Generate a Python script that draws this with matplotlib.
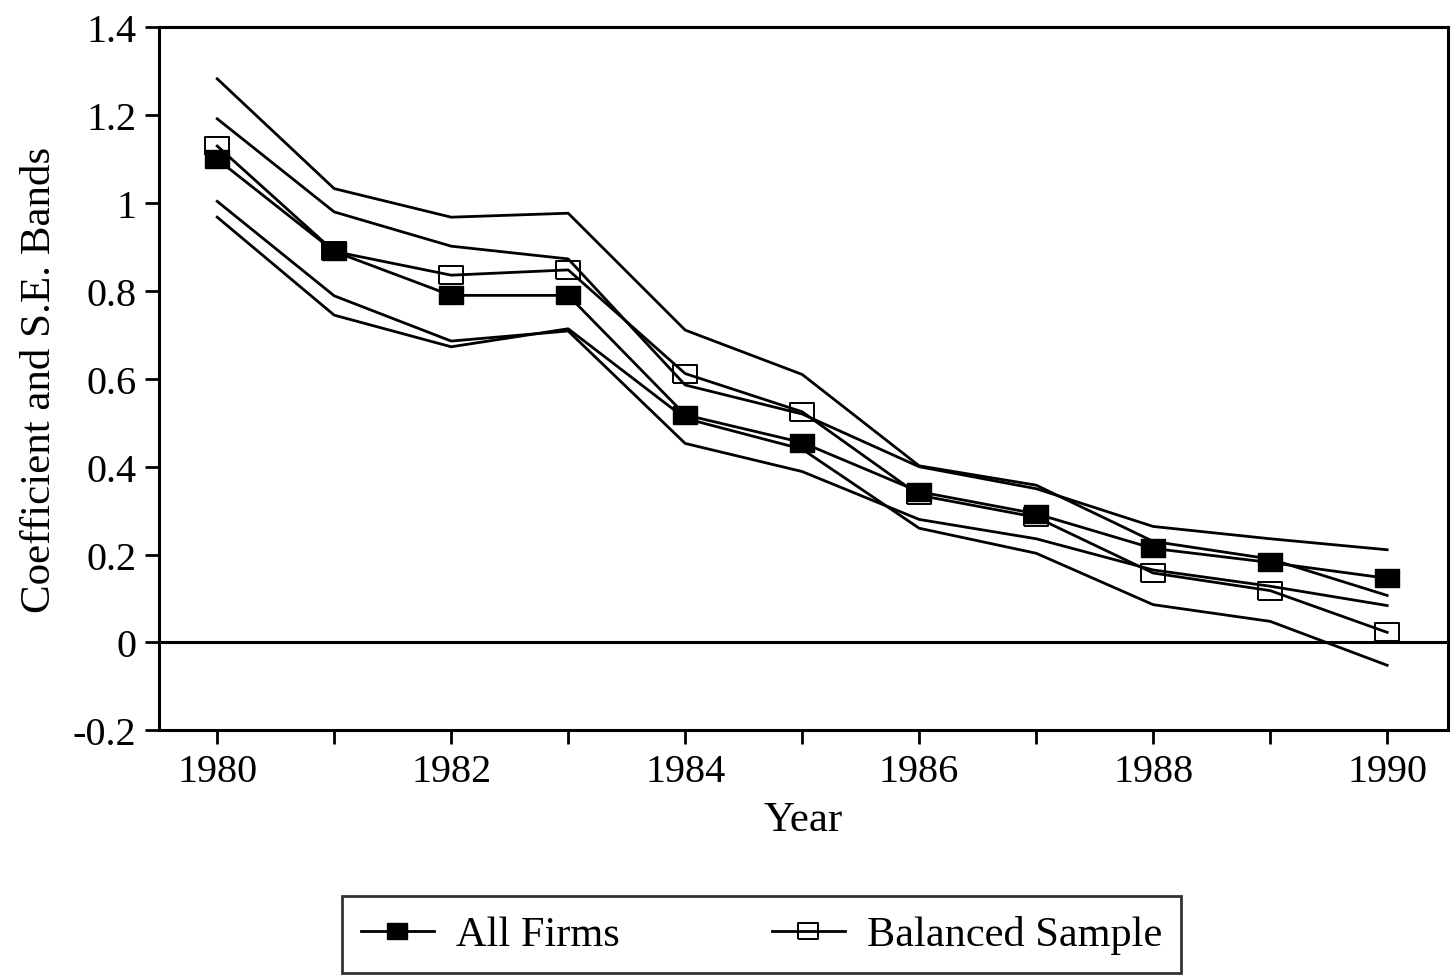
import numpy as np
import matplotlib.pyplot as plt
from matplotlib.lines import Line2D

# Data
years = [1980, 1981, 1982, 1983, 1984, 1985, 1986, 1987, 1988, 1989, 1990]

all_firms = [1.10, 0.89, 0.79, 0.79, 0.518, 0.455, 0.343, 0.293, 0.214, 0.182, 0.146]
all_hi = [1.192, 0.980, 0.902, 0.873, 0.586, 0.52, 0.40, 0.35, 0.264, 0.236, 0.211]
all_lo = [1.004, 0.789, 0.686, 0.709, 0.453, 0.389, 0.28, 0.236, 0.165, 0.128, 0.084]

balanced = [1.13, 0.89, 0.836, 0.848, 0.612, 0.525, 0.335, 0.285, 0.158, 0.118, 0.023]
bal_hi = [1.283, 1.033, 0.968, 0.977, 0.711, 0.61, 0.402, 0.358, 0.23, 0.19, 0.107]
bal_lo = [0.968, 0.745, 0.673, 0.714, 0.51, 0.44, 0.26, 0.203, 0.086, 0.048, -0.052]

yticks = [-0.2, 0, 0.2, 0.4, 0.6, 0.8, 1, 1.2, 1.4]
ytick_labels = ['-0.2', '0', '0.2', '0.4', '0.6', '0.8', '1', '1.2', '1.4']

plt.rcParams['font.family'] = ['Liberation Serif', 'DejaVu Serif']

# rectangle marker, a bit wider than tall
rect = [(-1, -0.74), (1, -0.74), (1, 0.74), (-1, 0.74), (-1, -0.74)]

fig = plt.figure(figsize=(14.56, 9.79), dpi=100)
ax = fig.add_axes([0.109, 0.253, 0.8855, 0.718])

lw = 2.0
# S.E. bands
for band in (bal_hi, bal_lo, all_hi, all_lo):
    ax.plot(years, band, color='black', lw=lw)

ax.axhline(0, color='black', lw=2.2)

ax.plot(years, balanced, color='black', lw=lw, marker=rect, ms=17,
        mfc='none', mec='black', mew=1.4)
ax.plot(years, all_firms, color='black', lw=lw, marker=rect, ms=17,
        mfc='black', mec='black')

ax.set_xlim(1979.5, 1990.52)
ax.set_ylim(-0.2, 1.4)
ax.set_xticks(years)
ax.set_xticklabels([str(y) if y % 2 == 0 else '' for y in years])
ax.set_yticks(yticks)
ax.set_yticklabels(ytick_labels)

for s in ax.spines.values():
    s.set_linewidth(2.2)
ax.tick_params(axis='both', direction='out', length=10, width=2,
               labelsize=29, pad=6)

ax.set_xlabel('Year', fontsize=31, labelpad=8)
ax.set_ylabel('Coefficient and S.E. Bands', fontsize=31, labelpad=10)

handles = [
    Line2D([], [], color='black', lw=lw, marker=rect, ms=15, mfc='black', mec='black'),
    Line2D([], [], color='black', lw=lw, marker=rect, ms=15, mfc='none', mec='black', mew=1.4),
]
leg = fig.legend(handles, ['All Firms', 'Balanced Sample'], ncol=2,
                 loc='center', bbox_to_anchor=(0.523, 0.044),
                 fontsize=30.5, frameon=True, fancybox=False, edgecolor='black',
                 handlelength=1.72, handletextpad=0.52, columnspacing=3.6,
                 borderpad=0.45)
leg.get_frame().set_linewidth(2)

fig.savefig('out.png', dpi=100)
